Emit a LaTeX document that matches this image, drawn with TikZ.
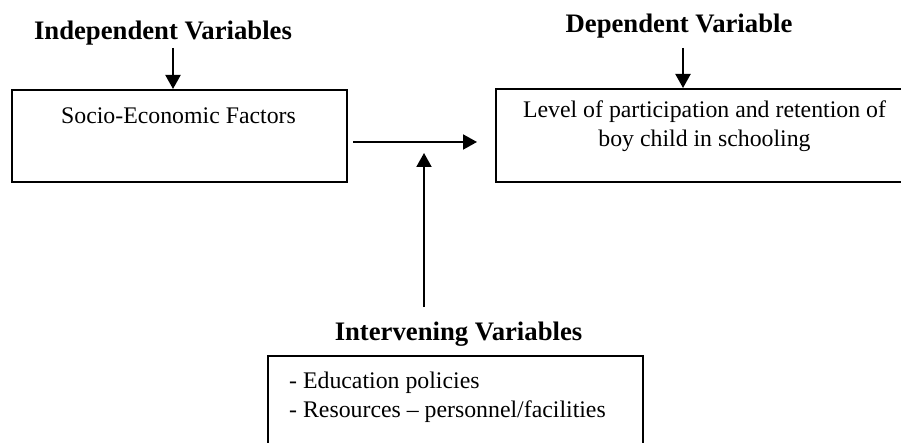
\documentclass[tikz,border=0pt]{standalone}
\usepackage{fontspec}
\setmainfont{Liberation Serif}
\usetikzlibrary{arrows.meta}
\begin{document}
\begin{tikzpicture}[x=1pt,y=-1pt,
  boxshape/.style={draw,line width=2pt,rectangle,inner sep=0pt},
  headtext/.style={inner sep=0pt,anchor=base,font=\fontsize{26.7}{31}\selectfont\bfseries},
  bodytext/.style={inner sep=0pt,anchor=base,font=\fontsize{23.8}{29}\selectfont},
  conn/.style={line width=2pt,-{Triangle[length=14pt,width=15pt]}}]
\useasboundingbox (0,0) rectangle (901,443);
% boxes
\node[boxshape,minimum width=335.3pt,minimum height=92pt] (box1) at (179.35,136) {};
\node[boxshape,minimum width=406pt,minimum height=93pt] (box2) at (699,135.5) {};
\node[boxshape,minimum width=375pt,minimum height=90pt] (box3) at (455.5,401) {};
% headings
\node[headtext] (indep) at (163,40) {Independent Variables};
\node[headtext] (depv) at (679,33) {Dependent Variable};
\node[headtext] (interv) at (458.5,340) {Intervening Variables};
% box texts
\node[bodytext] (socio) at (178.5,124) {Socio-Economic Factors};
\node[bodytext] (dep1) at (704.5,118) {Level of participation and retention of};
\node[bodytext] (dep2) at (704.5,147) {boy child in schooling};
\node[bodytext,anchor=base west] (int1) at (289,388) {- Education policies};
\node[bodytext,anchor=base west] (int2) at (289,417) {- Resources -- personnel/facilities};
% connectors
\coordinate (ia) at (173,48);
\coordinate (da) at (683,48);
\coordinate (hs) at (353,142);
\coordinate (he) at (477,142);
\coordinate (vs) at (424,307);
\coordinate (ve) at (424,153);
\draw[conn] (ia) -- (ia |- box1.north);
\draw[conn] (da) -- (da |- box2.north);
\draw[conn] (hs) -- (he);
\draw[conn] (vs) -- (ve);
\end{tikzpicture}
\end{document}
